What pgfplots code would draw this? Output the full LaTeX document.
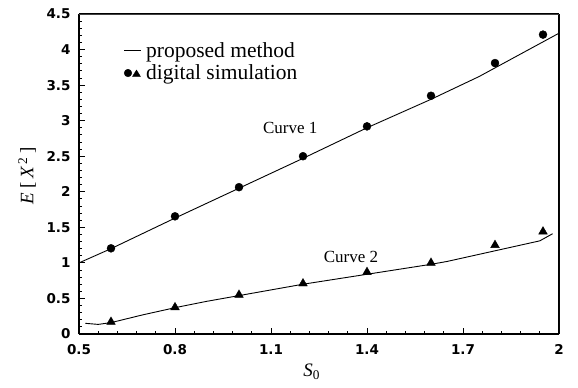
\documentclass[border=0pt]{standalone}
\usepackage{fontspec}
\setmainfont{Liberation Serif}
\newfontfamily\tickfont{DejaVu Sans}
\usepackage{pgfplots}
\pgfplotsset{compat=1.18}

\begin{document}
\begin{tikzpicture}
\begin{axis}[
  scale only axis,
  width=480pt, height=320pt,
  xmin=0.5, xmax=2, ymin=0, ymax=4.5,
  xtick={0.5,0.8,1.1,1.4,1.7,2},
  ytick={0,0.5,1,1.5,2,2.5,3,3.5,4,4.5},
  minor x tick num=4, minor y tick num=4,
  tick pos=left, tick align=inside,
  major tick length=6pt, minor tick length=3.5pt,
  every tick/.style={black, line width=0.9pt},
  /pgf/number format/assume math mode=true,
  ticklabel style={font=\tickfont\bfseries\fontsize{13.5}{13.5}\selectfont},
  xticklabel style={yshift=-7pt},
  yticklabel style={xshift=-5pt},
  separate axis lines,
  x axis line style={line width=1.3pt},
  y axis line style={line width=1.3pt},
  xlabel={\textit{S}\textsubscript{0}},
  ylabel={\textit{E} [\,\textit{X}\textsuperscript{\,2}\,]},
  xlabel style={font=\fontsize{19}{19}\selectfont, at={(axis description cs:0.485,-0.119)}, anchor=center},
  ylabel style={font=\fontsize{19}{19}\selectfont, at={(axis description cs:-0.108,0.494)}, anchor=center},
  legend style={draw=none, fill=none, at={(axis description cs:0.093,0.915)}, anchor=north west,
    font=\fontsize{21.5}{21.5}\selectfont, row sep=4pt, inner sep=0pt,
    nodes={inner xsep=4pt, inner ysep=1pt}},
  legend cell align=left,
]
% top and right frame lines, drawn thinner
\draw[line width=0.8pt, black!75] (rel axis cs:0,1) -- (rel axis cs:1,1) -- (rel axis cs:1,0);

% proposed method, curve 1
\addplot[black, line width=0.9pt, forget plot] coordinates {
  (0.5,1.00) (0.6,1.20) (0.8,1.63) (1.0,2.05) (1.2,2.47) (1.4,2.90)
  (1.6,3.30) (1.75,3.62) (2.0,4.23)
};
% proposed method, curve 2
\addplot[black, line width=0.9pt, forget plot] coordinates {
  (0.52,0.15) (0.56,0.135) (0.6,0.16) (0.7,0.27) (0.8,0.37) (0.9,0.46)
  (1.0,0.54) (1.1,0.62) (1.2,0.70) (1.4,0.84) (1.6,0.98) (1.65,1.02)
  (1.8,1.17) (1.94,1.31) (1.98,1.41)
};
% digital simulation, curve 1
\addplot[only marks, mark=*, mark size=4pt, black, forget plot] coordinates {
  (0.6,1.205) (0.8,1.655) (1.0,2.065) (1.2,2.50) (1.4,2.92)
  (1.6,3.35) (1.8,3.81) (1.95,4.21)
};
% digital simulation, curve 2
\addplot[only marks, mark=triangle*, mark size=5pt, black, forget plot] coordinates {
  (0.6,0.17) (0.8,0.375) (1.0,0.55) (1.2,0.71) (1.4,0.87)
  (1.6,1.00) (1.8,1.25) (1.95,1.44)
};

\addlegendimage{black, line width=1.3pt, legend image code/.code={
  \draw[black, line width=1.3pt] (0pt,0pt) -- (17pt,0pt);}}
\addlegendentry{proposed method}
\addlegendimage{legend image code/.code={
  \fill[black] (3.5pt,0pt) circle (3.8pt);
  \fill[black] (8pt,-3.5pt) -- (16pt,-3.5pt) -- (12pt,3pt) -- cycle;}}
\addlegendentry{digital simulation}

\node[font=\fontsize{17}{17}\selectfont] at (axis cs:1.16,2.90) {Curve 1};
\node[font=\fontsize{17}{17}\selectfont] at (axis cs:1.35,1.09) {Curve 2};
\end{axis}
\path[use as bounding box] (-79pt,-54pt) rectangle (499pt,334pt);
\end{tikzpicture}
\end{document}
